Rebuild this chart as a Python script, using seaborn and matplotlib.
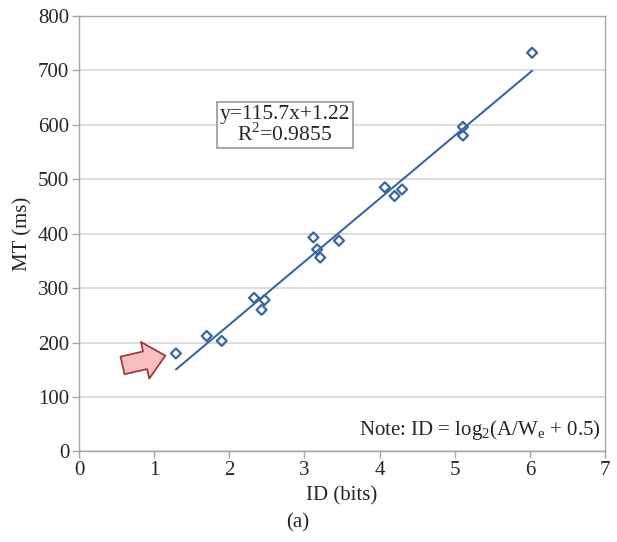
import matplotlib
matplotlib.use("Agg")
import matplotlib.pyplot as plt
import seaborn as sns
import pandas as pd
import numpy as np

# Index of difficulty (bits) and movement time (ms) per condition
id_bits = [1.29, 1.70, 1.90, 2.33, 2.47, 2.43, 3.12, 3.17, 3.21, 3.46,
           4.07, 4.20, 4.30, 5.11, 5.11, 6.03]
mt_ms = [180, 212, 203, 282, 278, 260, 393, 371, 356, 387,
         485, 469, 481, 596, 580, 732]

# Linear fit reported on the chart
slope = 115.7
intercept = 1.22
r_squared = 0.9855

x_ticks = [0, 1, 2, 3, 4, 5, 6, 7]
y_ticks = [0, 100, 200, 300, 400, 500, 600, 700, 800]

df = pd.DataFrame({"ID": id_bits, "MT": mt_ms})

sns.set_theme(style="white")
plt.rcParams["font.family"] = ["Liberation Serif", "DejaVu Serif"]
plt.rcParams["mathtext.fontset"] = "custom"
plt.rcParams["mathtext.rm"] = "Liberation Serif"

blue = "#3a67a0"
grey_spine = "#a6a6a6"
fs = 15

fig = plt.figure(figsize=(6.17, 5.42), dpi=100)
ax = fig.add_axes([0.128, 0.167, 0.8525, 0.804])

ax.set_xlim(0, 7)
ax.set_ylim(0, 800)
ax.set_xticks(x_ticks)
ax.set_yticks(y_ticks)
ax.yaxis.grid(True, color="#d9d9d9", linewidth=1.3)
ax.set_axisbelow(True)

for s in ax.spines.values():
    s.set_color(grey_spine)
    s.set_linewidth(1.0)

ax.tick_params(axis="both", which="major", direction="out", length=5,
               width=1, color=grey_spine, labelsize=fs, pad=2,
               bottom=True, left=True)

# trend line across the observed range
xs = np.array([min(id_bits), max(id_bits)])
sns.lineplot(x=xs, y=slope * xs + intercept, ax=ax, color=blue,
             linewidth=1.5)

sns.scatterplot(data=df, x="ID", y="MT", ax=ax, marker="D", s=26,
                facecolor="none", edgecolor=blue, linewidth=1.6, zorder=3)

ax.set_xlabel("ID (bits)", fontsize=fs, labelpad=4)
ax.set_ylabel("MT (ms)", fontsize=fs, labelpad=4)

ax.text(2.74, 599,
        f"y={slope}x+{intercept}\n" + r"R$^2$" + f"={r_squared}",
        ha="center", va="center", fontsize=fs + 0.5, linespacing=0.95,
        bbox=dict(boxstyle="square,pad=0.12", facecolor="white",
                  edgecolor="#a0a0a0", linewidth=1.3))

ax.text(6.95, 40, r"Note: ID = log$_2$(A/W$_\mathrm{e}$ + 0.5)",
        ha="right", va="center", fontsize=fs)

# arrow pointing at the easiest condition
ax.annotate("", xy=(1.15, 176), xytext=(0.58, 158),
            arrowprops=dict(arrowstyle="simple,head_length=0.75,head_width=1.35,tail_width=0.65",
                            facecolor="#f7bfc0", edgecolor="#a23a3d",
                            linewidth=1.3, shrinkA=0, shrinkB=0,
                            mutation_scale=20))

fig.text(0.482, 0.035, "(a)", ha="center", va="center", fontsize=fs)

fig.savefig("out.png", dpi=100)
